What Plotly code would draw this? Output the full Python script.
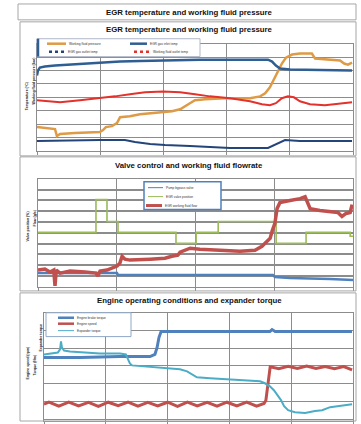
import plotly.graph_objects as go

W, H = 361, 424

# ---------------- Panel 1: EGR temperature and working fluid pressure ----------------
p1_press_t = [0, 25, 57, 63, 73, 120, 199, 209, 218, 237, 253, 263, 294, 326, 358, 399, 427, 453, 472, 484,
              500, 532, 595, 674, 706, 722, 737, 750, 763, 775, 788, 807, 832, 870, 880, 911, 959, 972, 984, 997]
p1_press_v = [17.8, 17.0, 16.3, 11.1, 12.6, 13.3, 14.1, 15.6, 17.8, 18.5, 20.7, 25.2, 25.9, 27.4, 28.1, 28.9,
              29.6, 31.1, 34.1, 35.6, 37.8, 38.5, 39.3, 39.3, 40.7, 43.0, 47.4, 53.3, 59.3, 65.2, 69.6, 71.9,
              72.6, 72.6, 68.9, 68.1, 67.4, 65.2, 64.4, 65.9]

p1_inlet_t = [0, 3, 9, 25, 57, 104, 152, 199, 263, 326, 399, 516, 642, 731, 744, 756, 769, 801, 896, 997]
p1_inlet_v = [56.3, 60.0, 62.2, 63.0, 63.7, 64.4, 65.2, 65.9, 66.7, 67.0, 67.4, 68.1, 68.1, 68.1, 66.7,
              63.7, 61.5, 60.7, 60.4, 60.0]

p1_wfout_t = [0, 41, 73, 136, 199, 247, 294, 342, 399, 453, 500, 547, 611, 674, 712, 737, 756, 775, 794,
              813, 832, 864, 911, 959, 997]
p1_wfout_v = [37.8, 37.0, 36.3, 37.8, 39.3, 40.7, 42.2, 43.7, 44.4, 43.7, 42.2, 40.7, 39.3, 37.0, 34.8,
              34.1, 35.6, 39.3, 40.7, 40.0, 37.0, 34.8, 34.1, 35.6, 36.3]

p1_egrout_t = [0, 73, 199, 278, 310, 358, 405, 484, 547, 611, 731, 744, 763, 785, 832, 997]
p1_egrout_v = [7.4, 7.8, 8.1, 8.1, 6.7, 5.2, 4.4, 3.7, 3.0, 2.2, 2.2, 3.7, 5.9, 8.1, 7.4, 7.4]

# ---------------- Panel 2: Valve control and working fluid flowrate ----------------
p2_pump_t = [0, 251, 254, 746, 752, 800, 927, 975, 1000]
p2_pump_v = [12.8, 12.8, 11.0, 11.0, 9.2, 8.3, 7.3, 6.4, 6.4]

p2_valve_t = [0, 184, 219, 254, 438, 502, 572, 756, 851, 991, 1000]
p2_valve_v = [50.4, 80.7, 60.5, 50.4, 40.3, 50.4, 60.5, 40.3, 50.4, 46.8, 46.8]

p2_flow_t = [0, 22, 38, 50, 54, 58, 70, 102, 149, 184, 190, 197, 219, 238, 251, 260, 267, 276, 292, 356,
             403, 425, 444, 451, 467, 483, 514, 578, 641, 689, 711, 724, 737, 743, 752, 759, 768, 800, 832,
             848, 854, 864, 895, 927, 952, 965, 978, 991, 997]
p2_flow_v = [15.6, 16.5, 13.8, 15.6, 0.9, 15.6, 12.8, 14.7, 13.8, 12.8, 10.1, 14.7, 15.6, 17.4, 19.3, 22.0,
             28.4, 25.7, 24.8, 25.7, 26.6, 28.4, 29.3, 32.1, 33.9, 35.8, 34.8, 33.9, 33.0, 33.9, 37.6, 41.3,
             44.9, 51.4, 58.7, 72.4, 77.9, 79.8, 81.6, 83.4, 78.9, 72.4, 70.6, 69.7, 68.8, 65.1, 67.9, 68.8,
             76.1]

# ---------------- Panel 3: Engine operating conditions and expander torque ----------------
p3_brake_t = [0, 117, 246, 343, 359, 366, 372, 379, 505, 699, 731, 738, 748, 997]
p3_brake_v = [34.8, 34.8, 35.3, 35.3, 36.5, 40.4, 46.0, 49.4, 49.4, 49.4, 49.4, 50.5, 49.4, 49.4]

p3_speed_t = [0, 16, 48, 80, 112, 144, 176, 208, 240, 272, 304, 336, 368, 400, 432, 464, 496, 528, 560, 592,
              624, 656, 688, 712, 718, 726, 732, 760, 790, 820, 850, 880, 910, 940, 970, 997]
p3_speed_v = [8.4, 9.5, 7.3, 9.6, 7.4, 9.4, 7.2, 9.5, 7.5, 9.6, 7.3, 9.4, 7.4, 9.5, 7.2, 9.6, 7.4, 9.4, 7.3,
              9.5, 7.4, 9.6, 7.3, 8.8, 10.5, 22.0, 29.5, 28.4, 29.8, 28.6, 29.9, 28.5, 29.7, 28.4, 29.6, 27.8]

p3_exp_t = [0, 19, 45, 52, 55, 58, 65, 84, 117, 181, 246, 265, 272, 278, 285, 327, 375, 408, 440, 463, 479,
            495, 537, 602, 667, 699, 715, 731, 744, 757, 767, 777, 790, 812, 845, 877, 900, 926, 958, 997]
p3_exp_v = [36.5, 37.0, 37.6, 39.3, 43.8, 40.4, 38.7, 38.1, 37.6, 37.0, 37.0, 36.5, 33.7, 31.4, 30.3, 29.7,
            29.2, 28.6, 28.1, 26.9, 25.2, 23.6, 23.0, 22.4, 21.9, 21.3, 20.2, 18.5, 16.3, 13.5, 10.7, 7.3,
            5.0, 3.9, 3.4, 4.5, 5.0, 6.7, 7.3, 8.4]

titles = ["EGR temperature and working fluid pressure",
          "Valve control and working fluid flowrate",
          "Engine operating conditions and expander torque"]

leg1 = ["Working fluid pressure", "EGR gas inlet temp", "EGR gas outlet temp", "Working fluid outlet temp"]
leg2 = ["Pump bypass valve", "EGR valve position", "EGR working fluid flow"]
leg3 = ["Engine brake torque", "Engine speed", "Expander torque"]

C_OR = "#DE9A45"
C_BL = "#2F5E93"
C_RD = "#E3322C"
C_NV = "#23457A"
C2_BL = "#4F81BD"
C2_GR = "#9BBB59"
C2_RD = "#C0504D"
C3_BL = "#4F81BD"
C3_RD = "#C0504D"
C3_CY = "#4BACC6"


def fx(px):
    return px / W


def fy(py):
    return 1 - py / H


fig = go.Figure()

# panel 1 traces
fig.add_trace(go.Scatter(x=p1_press_t, y=p1_press_v, mode="lines", line=dict(color=C_OR, width=2.5),
                         name=leg1[0], xaxis="x", yaxis="y"))
fig.add_trace(go.Scatter(x=p1_inlet_t, y=p1_inlet_v, mode="lines", line=dict(color=C_BL, width=2.5),
                         name=leg1[1], xaxis="x", yaxis="y"))
fig.add_trace(go.Scatter(x=p1_egrout_t, y=p1_egrout_v, mode="lines", line=dict(color=C_NV, width=2),
                         name=leg1[2], xaxis="x", yaxis="y"))
fig.add_trace(go.Scatter(x=p1_wfout_t, y=p1_wfout_v, mode="lines", line=dict(color=C_RD, width=2),
                         name=leg1[3], xaxis="x", yaxis="y"))

# panel 2 traces
fig.add_trace(go.Scatter(x=p2_pump_t, y=p2_pump_v, mode="lines", line=dict(color=C2_BL, width=2.5),
                         name=leg2[0], xaxis="x2", yaxis="y2"))
fig.add_trace(go.Scatter(x=p2_valve_t, y=p2_valve_v, mode="lines", line=dict(color=C2_GR, width=1.6, shape="hv"),
                         name=leg2[1], xaxis="x2", yaxis="y2"))
fig.add_trace(go.Scatter(x=p2_flow_t, y=p2_flow_v, mode="lines", line=dict(color=C2_RD, width=3.5),
                         name=leg2[2], xaxis="x2", yaxis="y2"))

# panel 3 traces
fig.add_trace(go.Scatter(x=p3_brake_t, y=p3_brake_v, mode="lines", line=dict(color=C3_BL, width=3),
                         name=leg3[0], xaxis="x3", yaxis="y3"))
fig.add_trace(go.Scatter(x=p3_speed_t, y=p3_speed_v, mode="lines", line=dict(color=C3_RD, width=3),
                         name=leg3[1], xaxis="x3", yaxis="y3"))
fig.add_trace(go.Scatter(x=p3_exp_t, y=p3_exp_v, mode="lines", line=dict(color=C3_CY, width=2),
                         name=leg3[2], xaxis="x3", yaxis="y3"))

GRID = "#8c8c8c"


def xax(domain, dtick, anchor):
    return dict(domain=domain, range=[0, 1000], dtick=dtick, tick0=0, showgrid=True, gridcolor=GRID,
                gridwidth=1, showline=True, linecolor=GRID, mirror=True, ticks="outside", ticklen=3,
                tickcolor=GRID, showticklabels=False, zeroline=False, anchor=anchor)


def yax(domain, rng, dtick, anchor, gw=1):
    return dict(domain=domain, range=rng, dtick=dtick, tick0=0, showgrid=True, gridcolor=GRID,
                gridwidth=gw, showline=True, linecolor=GRID, mirror=True, ticks="", showticklabels=False,
                zeroline=False, anchor=anchor)


shapes = []
annotations = []

# panel frames
BOX = "#a6a6a6"
for (x0, y0, x1, y1) in [(18, 4, 356, 20), (20, 22, 356, 157), (20, 158, 356, 293), (20, 295, 356, 424)]:
    shapes.append(dict(type="rect", xref="paper", yref="paper", x0=fx(x0), x1=fx(x1), y0=fy(y1), y1=fy(y0),
                       line=dict(color=BOX, width=1)))

TFONT = dict(family="Liberation Sans", size=7.8, color="#111111")
for (txt, py) in [(titles[0], 13), (titles[0], 30), (titles[1], 167), (titles[2], 303)]:
    annotations.append(dict(text="<b>%s</b>" % txt, x=fx(189), y=fy(py), xref="paper", yref="paper",
                            showarrow=False, font=TFONT, xanchor="center", yanchor="middle"))

# axis titles (rotated, tiny)
AFONT = dict(family="Liberation Sans", size=3.5, color="#222222")
for (txt, px, py) in [("Temperature (°C)", 27, 97), ("Working fluid pressure (bar)", 34, 82),
                      ("Valve position (%)", 28, 228), ("Flow (g/s)", 35, 220),
                      ("Engine speed (rpm)", 28, 365), ("Torque (Nm)", 35, 368), ("Expander torque", 41, 340)]:
    annotations.append(dict(text="<b>%s</b>" % txt, x=fx(px), y=fy(py), xref="paper", yref="paper",
                            showarrow=False, font=AFONT, textangle=-90, xanchor="center", yanchor="middle"))

LFONT = dict(family="Liberation Sans", size=3.2, color="#333333")


def legend_box(x0, y0, x1, y1, col, w):
    shapes.append(dict(type="rect", xref="paper", yref="paper", x0=fx(x0), x1=fx(x1), y0=fy(y1), y1=fy(y0),
                       line=dict(color=col, width=w), fillcolor="white", layer="above"))


def legend_item(sx0, sx1, py, col, w, txt, dash="solid"):
    shapes.append(dict(type="line", xref="paper", yref="paper", x0=fx(sx0), x1=fx(sx1), y0=fy(py), y1=fy(py),
                       line=dict(color=col, width=w, dash=dash), layer="above"))
    annotations.append(dict(text=txt, x=fx(sx1 + 1), y=fy(py), xref="paper", yref="paper", showarrow=False,
                            font=LFONT, xanchor="left", yanchor="middle"))


# legend 1
legend_box(37, 39, 200, 57, "#b0b8c8", 1)
shapes.append(dict(type="line", xref="paper", yref="paper", x0=fx(38), x1=fx(38), y0=fy(57), y1=fy(39),
                   line=dict(color=C_BL, width=2.5), layer="above"))
legend_item(47, 66, 44, C_OR, 2.5, leg1[0])
legend_item(130, 147, 44, C_BL, 2.5, leg1[1])
legend_item(49, 65, 52, C_NV, 2.5, leg1[2], dash="dot")
legend_item(134, 150, 52, C_RD, 2.5, leg1[3], dash="dot")

# legend 2
legend_box(144, 183, 221, 211, C2_BL, 1.5)
legend_item(148, 163, 189, C2_BL, 1, leg2[0])
legend_item(148, 163, 198, C2_GR, 1, leg2[1])
legend_item(146, 162, 207, C2_RD, 3, leg2[2])

# legend 3
legend_box(46, 315, 131, 339, "#8fa8c8", 1)
legend_item(58, 74, 320, C3_BL, 2.5, leg3[0])
legend_item(58, 74, 326, C3_RD, 2.5, leg3[1])
legend_item(58, 74, 333, C3_CY, 1, leg3[2])

fig.update_layout(
    width=W, height=H, margin=dict(l=0, r=0, t=0, b=0, pad=0),
    paper_bgcolor="white", plot_bgcolor="white", showlegend=False,
    xaxis=xax([fx(37), fx(353)], 200, "y"),
    yaxis=yax([fy(152), fy(44)], [0, 80], 10, "x"),
    xaxis2=xax([fx(38), fx(353)], 250, "y2"),
    yaxis2=yax([fy(289), fy(180)], [0, 100], 10, "x2", gw=1.5),
    xaxis3=xax([fx(44), fx(353)], 200, "y3"),
    yaxis3=yax([0, fy(315)], [-1.1, 60], 10, "x3"),
    shapes=shapes, annotations=annotations,
)

fig.write_html("out.html", config={"displayModeBar": False},
               post_script="document.body.style.margin='0';document.body.style.padding='0';"
                           "document.body.style.overflow='hidden';")
